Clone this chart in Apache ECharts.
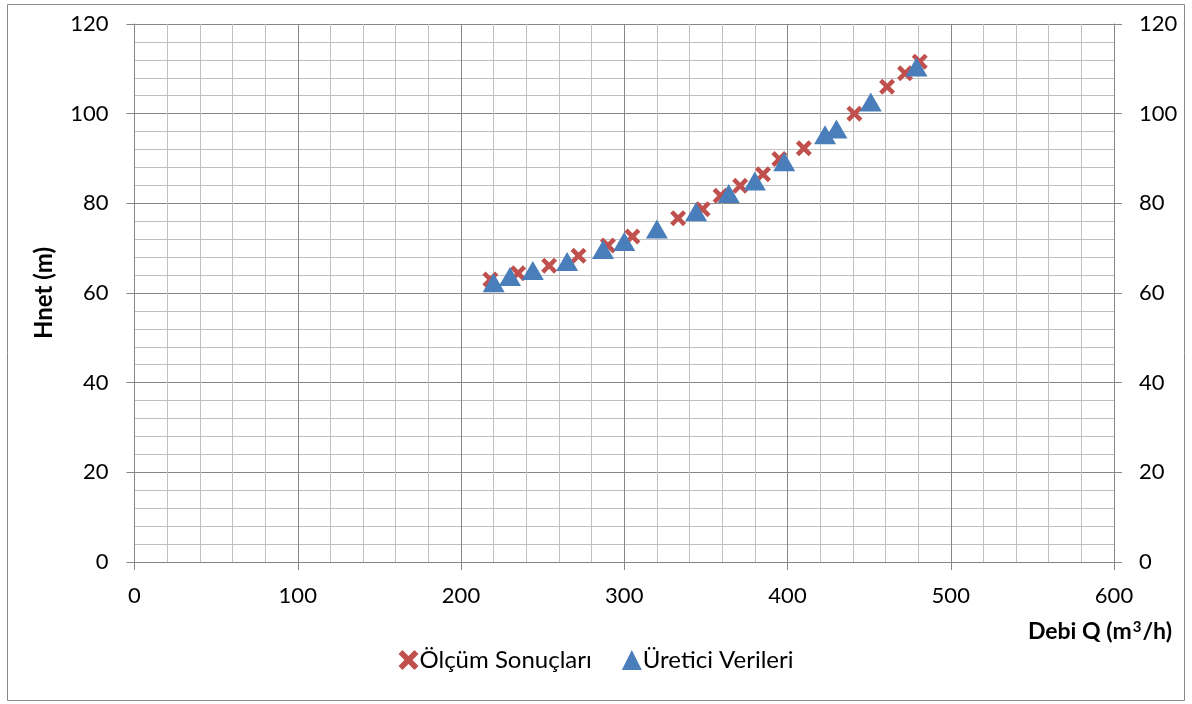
<!DOCTYPE html>
<html>
<head>
<meta charset="utf-8">
<script src="https://cdn.jsdelivr.net/npm/echarts@6/dist/echarts.min.js"></script>
<style>html,body{margin:0;padding:0;background:#fff}#c{width:1192px;height:704px}</style>
</head>
<body>
<div id="c"></div>
<script>
const seriesNames = ['Ölçüm Sonuçları', 'Üretici Verileri'];
const xAxisTitle = '{a|Debi Q (m}{s|3}{a|/h)}';
const yAxisTitle = 'Hnet (m)';
const olcumQ = [218, 235, 254, 272, 290, 305, 333, 348, 359, 371, 385, 395, 410, 441, 461, 472, 481];
const olcumH = [63, 64.4, 66.1, 68.3, 70.6, 72.6, 76.7, 78.7, 81.7, 83.9, 86.5, 89.9, 92.3, 100, 106, 109, 111.6];
const ureticiQ = [220, 230, 244, 265, 287, 300, 320, 344, 364, 380, 398, 423, 430, 451, 479];
const ureticiH = [62.3, 63.7, 65, 67, 69.7, 71.5, 74.3, 78.1, 82.2, 85, 89.3, 95.3, 96.6, 102.6, 110.4];
const xTicks = [0, 100, 200, 300, 400, 500, 600];
const yTicks = [0, 20, 40, 60, 80, 100, 120];

const crossPath = 'path://M0,2 L2,0 L5,3 L8,0 L10,2 L7,5 L10,8 L8,10 L5,7 L2,10 L0,8 L3,5 Z';
const font = 'Lato, "Open Sans", sans-serif';
const majorColor = '#868686';
const minorColor = '#c0c0c0';

const pair = (xs, ys) => xs.map((x, i) => [x, ys[i]]);

const chart = echarts.init(document.getElementById('c'), null, {renderer: 'canvas'});
const yAxisCommon = {
  type: 'value',
  min: yTicks[0], max: yTicks[yTicks.length - 1], interval: 20,
  axisLine: {show: true, lineStyle: {color: majorColor, width: 1}},
  axisTick: {show: true, length: 8, lineStyle: {color: majorColor}},
  minorTick: {show: false, splitNumber: 5},
};
chart.setOption({
  animation: false,
  backgroundColor: '#fff',
  textStyle: {fontFamily: font},
  graphic: [{
    type: 'rect', left: 5, top: 2, z: -10,
    shape: {x: 0, y: 0, width: 1177, height: 696},
    style: {fill: 'none', stroke: '#898989', lineWidth: 1}
  }],
  grid: {left: 134.5, right: 78, top: 24, bottom: 142, containLabel: false},
  xAxis: {
    type: 'value',
    min: xTicks[0], max: xTicks[xTicks.length - 1], interval: 100,
    name: xAxisTitle,
    nameLocation: 'end',
    nameGap: 58,
    nameTextStyle: {
      align: 'right', verticalAlign: 'top', padding: [58, 0, 0, 0],
      rich: {
        a: {fontFamily: font, fontSize: 23, fontWeight: 'bold', color: '#000'},
        s: {fontFamily: font, fontSize: 15, fontWeight: 'bold', color: '#000', verticalAlign: 'top', padding: [0, 1, 8, 1]}
      }
    },
    axisLine: {show: true, onZero: false, lineStyle: {color: majorColor, width: 1}},
    axisTick: {show: true, length: 8, lineStyle: {color: majorColor}},
    axisLabel: {color: '#000', fontFamily: font, fontSize: 22, margin: 23},
    splitLine: {show: true, lineStyle: {color: majorColor, width: 1}},
    minorTick: {show: false, splitNumber: 5},
    minorSplitLine: {show: true, lineStyle: {color: minorColor, width: 1}}
  },
  yAxis: [
    Object.assign({}, yAxisCommon, {
      position: 'left',
      name: yAxisTitle,
      nameLocation: 'middle',
      nameGap: 78,
      nameRotate: 90,
      nameTextStyle: {fontFamily: font, fontSize: 24, fontWeight: 'bold', color: '#000'},
      axisLabel: {color: '#000', fontFamily: font, fontSize: 22, margin: 26},
      splitLine: {show: true, lineStyle: {color: majorColor, width: 1}},
      minorSplitLine: {show: true, lineStyle: {color: minorColor, width: 1}}
    }),
    Object.assign({}, yAxisCommon, {
      position: 'right',
      axisLabel: {color: '#000', fontFamily: font, fontSize: 22, margin: 25},
      splitLine: {show: false},
      minorSplitLine: {show: false}
    })
  ],
  legend: {
    bottom: 27,
    left: 'center',
    itemGap: 30,
    itemWidth: 20,
    itemHeight: 20,
    textStyle: {fontFamily: font, fontSize: 24, color: '#000', padding: [0, 0, 0, -4]},
    data: [
      {name: seriesNames[0], icon: crossPath},
      {name: seriesNames[1], icon: 'triangle'}
    ]
  },
  series: [
    {
      name: seriesNames[0], type: 'scatter', yAxisIndex: 0,
      symbol: crossPath, symbolSize: 16,
      itemStyle: {color: '#C0504D', opacity: 1},
      data: pair(olcumQ, olcumH), z: 2
    },
    {
      name: seriesNames[1], type: 'scatter', yAxisIndex: 0,
      symbol: 'triangle', symbolSize: [22, 19],
      itemStyle: {color: '#4A7EBB', opacity: 1},
      data: pair(ureticiQ, ureticiH), z: 3
    }
  ]
});
</script>
</body>
</html>
